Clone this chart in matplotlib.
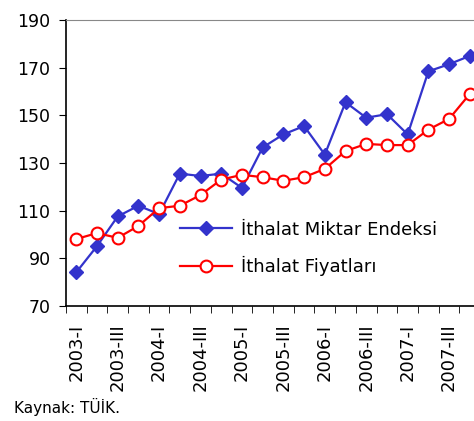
import matplotlib
matplotlib.use("Agg")
import matplotlib.pyplot as plt
import numpy as np

quarters = [f"{y}-{q}" for y in range(2003, 2008) for q in ["I", "II", "III", "IV"]]
miktar = [84, 95, 107.5, 112, 108.5, 125.5, 124.5, 125.5, 119.5, 136.5,
          142, 145.5, 133.5, 155.5, 149, 150.5, 142, 168.5, 171.5, 175]
fiyat = [98, 100.5, 98.5, 103.5, 111, 112, 116.5, 123, 125, 124,
         122.5, 124, 127.5, 135, 138, 137.5, 137.5, 144, 148.5, 159]
yticks = [70, 90, 110, 130, 150, 170, 190]

BLUE = "#3333cc"
RED = "#ff0000"

fig = plt.figure(figsize=(4.74, 4.21), dpi=100)
ax = fig.add_axes([0.139, 0.274, 0.874, 0.678])

x = np.arange(len(quarters))
ax.plot(x, miktar, color=BLUE, lw=1.6, marker="D", ms=7, mfc=BLUE, mec=BLUE,
        label="İthalat Miktar Endeksi", clip_on=False, zorder=3)
ax.plot(x, fiyat, color=RED, lw=1.6, marker="o", ms=8.5, mfc="white", mec=RED,
        mew=1.5, label="İthalat Fiyatları", clip_on=False, zorder=3)

ax.set_xlim(-0.5, len(quarters) - 0.5)
ax.set_ylim(70, 190)
ax.set_yticks(yticks)
ax.tick_params(axis="y", labelsize=12.5, length=5, direction="out", pad=6)

# category labels at centres, tick marks at boundaries
ax.set_xticks(x[::2])
ax.set_xticklabels(quarters[::2], rotation=90, fontsize=13)
ax.set_xticks(np.arange(-0.5, len(quarters), 1), minor=True)
ax.tick_params(axis="x", which="major", length=0, pad=13)
ax.tick_params(axis="x", which="minor", length=5, direction="out")

ax.spines["right"].set_visible(False)
ax.spines["top"].set_color("#888888")
ax.spines["left"].set_linewidth(1.2)
ax.spines["bottom"].set_linewidth(1.2)

ax.legend(loc="lower left", bbox_to_anchor=(0.245, 0.06), frameon=False,
          fontsize=13, handlelength=2.9, handletextpad=0.45, labelspacing=0.95,
          borderpad=0.2)

fig.text(0.03, 0.018, "Kaynak: TÜİK.", fontsize=11)

fig.savefig("out.png", dpi=100)
